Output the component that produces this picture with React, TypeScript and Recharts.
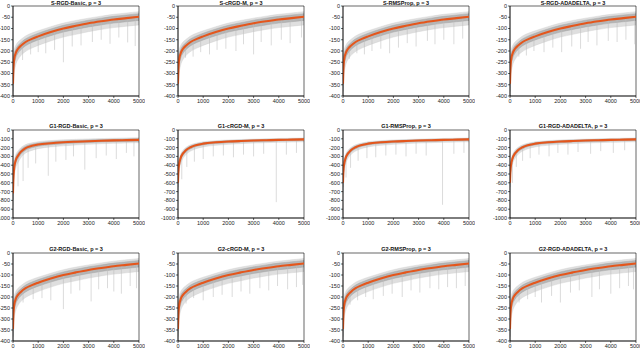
import { ComposedChart, Line, Area, XAxis, YAxis, ReferenceLine, ReferenceArea } from "recharts";

// knots along the iteration axis (x), shared by all panels
const X_KNOTS = [0, 10, 25, 50, 100, 200, 300, 500, 750, 1000, 1500, 2000, 2500, 3000, 3500, 4000, 4500, 5000];
const X_TICKS = [0, 1000, 2000, 3000, 4000, 5000];

// S / G2 rows (y from -400 to 0): smoothed mean, dense inner band, sparse outer band
const S_MEAN = [-345, -300, -262, -235, -212, -190, -178, -160, -146, -135, -116, -100, -88, -77, -68, -60, -54, -48];
const S_HI = [-315, -275, -240, -215, -195, -175, -164, -146, -132, -121, -102, -86, -74, -63, -54, -46, -40, -34];
const S_LO = [-380, -330, -290, -262, -235, -210, -196, -177, -162, -151, -132, -116, -104, -93, -84, -76, -70, -64];
const S_OUT_HI = [-290, -250, -218, -195, -178, -160, -150, -133, -120, -110, -92, -76, -64, -54, -45, -37, -31, -25];
const S_OUT_LO = [-400, -365, -325, -295, -265, -238, -222, -202, -187, -175, -155, -138, -126, -114, -104, -96, -90, -84];
const S_TICKS = [0, -50, -100, -150, -200, -250, -300, -350, -400];

// G1 row (y from -1000 to 0)
const G1B_MEAN = [-720, -600, -505, -425, -352, -292, -252, -205, -180, -165, -150, -140, -133, -127, -122, -118, -115, -112];
const G1B_HI = [-650, -545, -460, -385, -318, -262, -226, -184, -162, -148, -134, -125, -119, -113, -109, -105, -102, -100];
const G1B_LO = [-790, -660, -555, -470, -390, -325, -282, -230, -202, -185, -168, -157, -149, -143, -137, -133, -130, -127];
const G1B_OUT_HI = [-600, -500, -420, -350, -290, -238, -205, -166, -146, -133, -120, -112, -106, -101, -97, -94, -91, -89];
const G1B_OUT_LO = [-860, -740, -630, -530, -445, -370, -320, -262, -232, -212, -192, -180, -170, -162, -156, -151, -147, -144];
const G1F_MEAN = [-600, -505, -435, -382, -322, -266, -234, -196, -170, -155, -140, -131, -125, -120, -116, -112, -109, -106];
const G1F_HI = [-560, -470, -405, -355, -298, -246, -216, -181, -158, -144, -130, -122, -116, -111, -107, -104, -101, -98];
const G1F_LO = [-650, -550, -475, -415, -350, -290, -255, -214, -186, -170, -154, -144, -137, -132, -128, -124, -121, -118];
const G1F_OUT_HI = [-530, -445, -382, -335, -280, -230, -202, -168, -147, -134, -121, -113, -108, -103, -99, -96, -93, -90];
const G1F_OUT_LO = [-720, -610, -530, -460, -390, -322, -284, -240, -210, -192, -174, -163, -155, -149, -144, -140, -137, -134];
const G1_TICKS = [0, -100, -200, -300, -400, -500, -600, -700, -800, -900, -1000];

const ROW_NAMES = ["S", "G1", "G2"];
const METHODS = ["RGD-Basic", "cRGD-M", "RMSProp", "RGD-ADADELTA"];

// downward outliers per panel: [x, from, to]
const SPIKES_S = [
  [[380, -165, -240], [700, -148, -215], [1000, -133, -205], [1300, -122, -210], [1650, -110, -195], [2000, -98, -250], [2350, -90, -180], [2700, -82, -175], [3150, -73, -160], [3500, -66, -150], [3850, -61, -168], [4200, -56, -140], [4550, -52, -162], [4850, -48, -178]],
  [[300, -170, -230], [600, -152, -225], [900, -138, -205], [1250, -124, -215], [1550, -112, -195], [1900, -102, -190], [2300, -91, -200], [2600, -84, -170], [3000, -76, -215], [3300, -71, -160], [3700, -64, -175], [4100, -58, -150], [4450, -54, -165], [4900, -48, -140]],
  [[250, -175, -235], [550, -155, -210], [850, -140, -215], [1150, -128, -200], [1500, -115, -190], [1850, -104, -210], [2200, -93, -185], [2550, -85, -165], [2900, -78, -180], [3350, -70, -155], [3650, -65, -170], [4000, -60, -150], [4400, -55, -170], [4750, -50, -145]],
  [[350, -168, -225], [650, -150, -220], [950, -136, -200], [1350, -120, -205], [1700, -108, -185], [2050, -98, -205], [2450, -89, -180], [2800, -81, -190], [3100, -75, -160], [3450, -68, -175], [3900, -61, -155], [4250, -56, -160], [4600, -52, -150], [4950, -48, -170]],
];
const SPIKES_G1 = [
  [[200, -290, -640], [400, -220, -580], [600, -195, -430], [900, -170, -380], [1400, -150, -520], [1700, -145, -360], [2100, -139, -340], [2400, -134, -300], [2850, -126, -450], [3300, -124, -320], [3700, -120, -290], [4100, -117, -330], [4500, -115, -260], [4800, -113, -300]],
  [[150, -300, -560], [350, -215, -420], [650, -185, -360], [1000, -158, -330], [1400, -146, -300], [1800, -136, -290], [2200, -130, -310], [2600, -125, -280], [3000, -121, -300], [3400, -118, -270], [3900, -114, -820], [4300, -111, -280], [4700, -109, -260]],
  [[120, -310, -540], [300, -225, -430], [600, -190, -350], [950, -160, -320], [1300, -147, -310], [1700, -138, -290], [2100, -131, -280], [2500, -126, -300], [2900, -122, -270], [3300, -119, -290], [3950, -114, -850], [4400, -110, -270], [4800, -108, -260]],
  [[100, -320, -600], [250, -255, -420], [500, -198, -350], [800, -165, -320], [1150, -150, -280], [1550, -141, -300], [1900, -133, -260], [2300, -128, -280], [2700, -124, -250], [3200, -119, -270], [3600, -116, -240], [4100, -112, -260], [4550, -110, -230]],
];
const SPIKES_G2 = [
  [[400, -164, -225], [800, -145, -210], [1150, -128, -205], [1500, -115, -215], [2000, -100, -255], [2300, -91, -185], [2650, -83, -170], [3100, -75, -220], [3400, -69, -165], [3750, -64, -160], [4000, -60, -175], [4300, -56, -185], [4650, -51, -150], [4900, -48, -160]],
  [[320, -168, -230], [620, -152, -205], [1000, -133, -215], [1400, -118, -200], [1750, -106, -190], [2150, -95, -200], [2500, -87, -175], [2850, -79, -185], [3250, -71, -160], [3600, -66, -170], [3950, -61, -150], [4350, -55, -165], [4700, -50, -155], [4950, -48, -145]],
  [[280, -172, -235], [580, -154, -215], [900, -138, -200], [1200, -126, -210], [1600, -112, -195], [1950, -101, -185], [2350, -90, -200], [2700, -82, -170], [3050, -76, -180], [3450, -68, -160], [3800, -62, -165], [4150, -57, -155], [4500, -53, -160], [4850, -48, -150]],
  [[360, -167, -225], [700, -148, -210], [1000, -133, -200], [1250, -123, -225], [1650, -110, -195], [2000, -100, -225], [2400, -90, -180], [2750, -82, -170], [3250, -71, -200], [3550, -67, -165], [4000, -60, -185], [4350, -55, -160], [4700, -50, -150], [4900, -48, -165]],
];

const COL_LEFT = [13, 178, 343, 510];
const ROW_TOP = [6, 130, 253];
const ROW_H = [90, 88, 88];
const PLOT_W = 126;
const Y_AXIS_W = 22;
const ORANGE = "#e4561c";
const FONT = "Arial, 'Liberation Sans', sans-serif";

type PanelProps = {
  title: string;
  curves: number[][];
  spikes: number[][];
  yTicks: number[];
  left: number;
  top: number;
  plotH: number;
};

function Panel({ title, curves, spikes, yTicks, left, top, plotH }: PanelProps) {
  const [mean, hi, lo, outHi, outLo] = curves;
  const yMin = yTicks[yTicks.length - 1];
  const lineData = X_KNOTS.map((x, i) => ({ x, v: mean[i] }));
  const bandData = X_KNOTS.map((x, i) => ({ x, band: [lo[i], hi[i]] }));
  const outerData = X_KNOTS.map((x, i) => ({ x, band: [outLo[i], outHi[i]] }));
  const tickStyle = { fontSize: 5.5, fill: "#222", fontFamily: FONT };
  return (
    <>
      <div
        style={{
          position: "absolute",
          left,
          top: Math.max(0, top - 7),
          width: PLOT_W,
          textAlign: "center",
          fontSize: 5.5,
          fontWeight: "bold",
          lineHeight: "6px",
          fontFamily: FONT,
          color: "#111",
          zIndex: 2,
        }}
      >
        {title}
      </div>
      <div style={{ position: "absolute", left: left - Y_AXIS_W, top: top - 4 }}>
        <ComposedChart
          width={Y_AXIS_W + PLOT_W + 6}
          height={plotH + 16}
          margin={{ top: 4, right: 6, bottom: 0, left: 0 }}
        >
          <XAxis
            dataKey="x"
            type="number"
            domain={[0, 5000]}
            ticks={X_TICKS}
            height={12}
            tickSize={2}
            tickMargin={1}
            tick={tickStyle}
            stroke="#000"
            strokeWidth={0.6}
            allowDataOverflow
            interval={0}
          />
          <YAxis
            type="number"
            domain={[yMin, 0]}
            ticks={yTicks}
            width={Y_AXIS_W}
            tickSize={2}
            tickMargin={1}
            tick={tickStyle}
            stroke="#000"
            strokeWidth={0.6}
            allowDataOverflow
            interval={0}
          />
          {spikes.map((s, i) => (
            <ReferenceLine
              key={i}
              segment={[{ x: s[0], y: s[1] }, { x: s[0], y: s[2] }]}
              stroke="#bdbdbd"
              strokeWidth={0.55}
            />
          ))}
          <Area
            data={outerData}
            dataKey="band"
            type="monotone"
            fill="#d9d9d9"
            fillOpacity={0.85}
            stroke="#cfcfcf"
            strokeWidth={0.4}
            isAnimationActive={false}
          />
          <Area
            data={bandData}
            dataKey="band"
            type="monotone"
            fill="#aeaeae"
            fillOpacity={0.85}
            stroke="#a0a0a0"
            strokeWidth={0.4}
            isAnimationActive={false}
          />
          <Line
            data={lineData}
            dataKey="v"
            type="monotone"
            stroke={ORANGE}
            strokeWidth={2.1}
            dot={false}
            isAnimationActive={false}
          />
          <ReferenceArea x1={0} x2={5000} y1={yMin} y2={0} fill="none" stroke="#000" strokeWidth={0.6} />
        </ComposedChart>
      </div>
    </>
  );
}

export default function App() {
  const sCurves = [S_MEAN, S_HI, S_LO, S_OUT_HI, S_OUT_LO];
  const g1Fast = [G1F_MEAN, G1F_HI, G1F_LO, G1F_OUT_HI, G1F_OUT_LO];
  const rows = [
    { ticks: S_TICKS, spikes: SPIKES_S, curves: [sCurves, sCurves, sCurves, sCurves] },
    {
      ticks: G1_TICKS,
      spikes: SPIKES_G1,
      curves: [[G1B_MEAN, G1B_HI, G1B_LO, G1B_OUT_HI, G1B_OUT_LO], g1Fast, g1Fast, g1Fast],
    },
    { ticks: S_TICKS, spikes: SPIKES_G2, curves: [sCurves, sCurves, sCurves, sCurves] },
  ];
  return (
    <div
      style={{
        position: "absolute",
        left: 0,
        top: 0,
        width: 640,
        height: 348,
        overflow: "hidden",
        background: "#fff",
      }}
    >
      {rows.map((row, r) =>
        METHODS.map((m, c) => (
          <Panel
            key={`${r}-${c}`}
            title={`${ROW_NAMES[r]}-${m}, p = 3`}
            curves={row.curves[c]}
            spikes={row.spikes[c]}
            yTicks={row.ticks}
            left={COL_LEFT[c]}
            top={ROW_TOP[r]}
            plotH={ROW_H[r]}
          />
        ))
      )}
    </div>
  );
}
